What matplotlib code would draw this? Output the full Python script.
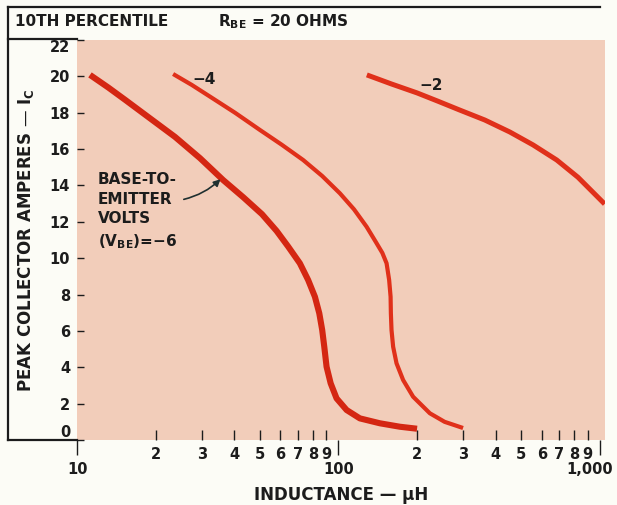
import matplotlib
matplotlib.use('Agg')
import matplotlib.pyplot as plt
from matplotlib import font_manager
from matplotlib.lines import Line2D
from matplotlib.ticker import FixedLocator, FixedFormatter
from matplotlib.transforms import ScaledTranslation

# Peak collector current vs. inductance for three base-to-emitter bias voltages
vbe6_L = [11.2, 13.18, 15.3, 19.02, 23.7, 29.54, 36.2, 43.25, 51.0, 58.0, 64.3, 71.2, 76.6,
          81.3, 84.5, 86.7, 88.3, 90.1, 93.4, 98.4, 107.5, 120.8, 144.1, 171.9, 200]
vbe6_I = [20.08, 19.38, 18.70, 17.69, 16.67, 15.50, 14.30, 13.35, 12.42, 11.50, 10.63, 9.72, 8.80,
          7.88, 6.97, 6.05, 5.13, 4.03, 3.12, 2.29, 1.65, 1.19, 0.92, 0.73, 0.62]

vbe4_L = [23.3, 27.46, 32.3, 40.2, 50.1, 60.7, 73.3, 86.7, 101.3, 114.7, 128.2, 139.1, 147.3,
          152.9, 156.4, 158.4, 158.8, 159.7, 162.0, 166.9, 176.9, 193.2, 223.9, 255, 300]
vbe4_I = [20.13, 19.53, 18.88, 18.00, 17.05, 16.24, 15.40, 14.52, 13.57, 12.69, 11.73, 10.89, 10.29,
          9.72, 8.80, 7.88, 6.97, 6.05, 5.13, 4.22, 3.30, 2.38, 1.47, 1.0, 0.66]

vbe2_L = [128.5, 159.7, 200, 240.8, 291, 363.3, 453, 555.9, 685, 826, 982, 1045]
vbe2_I = [20.08, 19.58, 19.09, 18.63, 18.15, 17.60, 16.94, 16.23, 15.40, 14.45, 13.37, 12.98]

major_x = [10, 100, 1000]
major_x_labels = ['10', '100', '1,000']
minor_x = [d * m for m in (10, 100) for d in range(2, 10)]
minor_x_labels = [str(d) for m in (10, 100) for d in range(2, 10)]
y_ticks = list(range(0, 23, 2))

names = {f.name for f in font_manager.fontManager.ttflist}
narrow = 'Liberation Sans Narrow' if 'Liberation Sans Narrow' in names else 'DejaVu Sans'
plt.rcParams['font.family'] = ['DejaVu Sans']
plt.rcParams['font.weight'] = 'bold'
plt.rcParams['axes.labelweight'] = 'bold'
plt.rcParams['mathtext.default'] = 'regular'

ink = '#1c1c1c'
red = '#e0301a'
paper = '#fcfcf6'
pink = '#f2cdba'

fig = plt.figure(figsize=(6.17, 5.05), dpi=100, facecolor=paper)
ax = fig.add_axes([0.125, 0.1287, 0.855, 0.7921])
ax.set_facecolor(pink)

ax.plot(vbe6_L, vbe6_I, color='#d42612', lw=4.4, solid_capstyle='butt', solid_joinstyle='round')
ax.plot(vbe4_L, vbe4_I, color=red, lw=3.0, solid_capstyle='butt', solid_joinstyle='round')
ax.plot(vbe2_L, vbe2_I, color=red, lw=3.6, solid_capstyle='butt', solid_joinstyle='round')

ax.set_xscale('log')
ax.set_xlim(10, 1045)
ax.set_ylim(0, 22)
for s in ax.spines.values():
    s.set_visible(False)

ax.xaxis.set_major_locator(FixedLocator(major_x))
ax.xaxis.set_major_formatter(FixedFormatter(major_x_labels))
ax.xaxis.set_minor_locator(FixedLocator(minor_x))
ax.xaxis.set_minor_formatter(FixedFormatter(minor_x_labels))
ax.tick_params(axis='x', which='major', direction='out', length=11, width=1.0,
               pad=5, labelsize=10.5, colors=ink)
ax.tick_params(axis='x', which='minor', direction='in', length=7, width=1.0,
               pad=5, labelsize=10.5, colors=ink)
ax.set_yticks(y_ticks)
ax.tick_params(axis='y', which='major', direction='in', length=5, width=1.0,
               pad=5, labelsize=10.5, colors=ink)
ylabels = ax.get_yticklabels()
ylabels[0].set_va('bottom')
ylabels[-1].set_va('top')

# pull the "1,000" label in from the right edge
lab = ax.get_xticklabels()[-1]
lab.set_transform(lab.get_transform() + ScaledTranslation(-7 / 72, 0, fig.dpi_scale_trans))

ax.set_xlabel('INDUCTANCE — μH', fontsize=12, color=ink, labelpad=6)
ax.set_ylabel('PEAK COLLECTOR AMPERES — I$_{C}$', fontsize=12, color=ink, labelpad=10)

# curve labels
ax.text(30.5, 19.8, '−4', fontsize=11, color=ink, ha='center', va='center')
ax.text(226, 19.5, '−2', fontsize=11, color=ink, ha='center', va='center')
ax.text(12.0, 14.75, 'BASE-TO-\nEMITTER\nVOLTS\n(V$_{BE}$)=−6', fontsize=11,
        color=ink, ha='left', va='top', linespacing=1.4, family=narrow)
ax.annotate('', xy=(36.0, 14.45), xytext=(25.0, 13.2),
            arrowprops=dict(arrowstyle='-|>', color='#203030', lw=1.2,
                            connectionstyle='arc3,rad=0.15', mutation_scale=10))

# header box
W, H = 617, 505
def px_line(x0, y0, x1, y1):
    fig.add_artist(Line2D([x0 / W, x1 / W], [1 - y0 / H, 1 - y1 / H],
                          color=ink, lw=1.6, transform=fig.transFigure))

px_line(8, 7, 600, 7)
px_line(8, 7, 8, 440)
px_line(8, 39, 77, 39)
px_line(8, 440, 77, 440)

fig.text(15 / W, 1 - 22 / H, '10TH PERCENTILE', fontsize=11, color=ink,
         ha='left', va='center', family=narrow)
fig.text(218 / W, 1 - 22 / H, 'R$_{BE}$ = 20 OHMS', fontsize=11, color=ink,
         ha='left', va='center', family=narrow)

fig.savefig('out.png', dpi=100, facecolor=paper)
